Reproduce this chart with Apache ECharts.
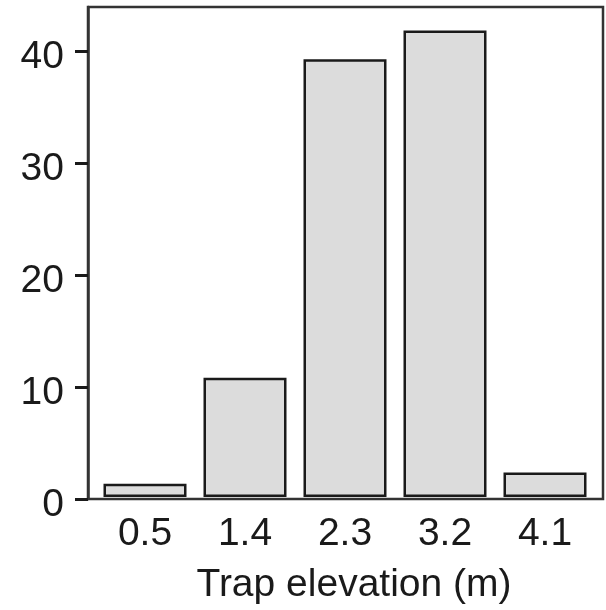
<!DOCTYPE html>
<html><head><meta charset="utf-8">
<script src="https://cdn.jsdelivr.net/npm/echarts@6/dist/echarts.min.js"></script>
<style>html,body{margin:0;padding:0;background:#fff}#c{width:606px;height:610px}</style>
</head><body><div id="c"></div>
<script>
const categories = ['0.5', '1.4', '2.3', '3.2', '4.1'];
const counts = [1.2, 10.7, 39.3, 41.9, 2.2];
const yTicks = [0, 10, 20, 30, 40];
const xTitle = 'Trap elevation (m)';

const FONT = "'Liberation Sans', Arial, sans-serif";
const chart = echarts.init(document.getElementById('c'), null, {renderer: 'canvas'});
chart.setOption({
  animation: false,
  backgroundColor: '#fff',
  grid: [
    {left: 88, right: 3, top: 7, bottom: 111, show: true, borderColor: '#333', borderWidth: 2.5, backgroundColor: 'transparent'},
    {left: 95, right: 11, top: 7, bottom: 111}
  ],
  xAxis: [
    {gridIndex: 0, type: 'value', min: 0, max: 1, show: false},
    {gridIndex: 1, type: 'category', data: categories,
     axisLine: {show: false}, axisTick: {show: false}, splitLine: {show: false},
     axisLabel: {fontSize: 39, color: '#1a1a1a', fontFamily: FONT, margin: 18},
     name: xTitle, nameLocation: 'middle', nameGap: 69,
     nameTextStyle: {fontSize: 39, color: '#1a1a1a', fontFamily: FONT, padding: [0, 0, 0, 18]}}
  ],
  yAxis: [
    {gridIndex: 0, type: 'value', min: 0, max: 44,
     axisLine: {show: true, lineStyle: {color: '#333', width: 2.5}},
     axisTick: {show: true, length: 13, customValues: yTicks, lineStyle: {color: '#1a1a1a', width: 3}},
     axisLabel: {fontSize: 39, color: '#1a1a1a', fontFamily: FONT, margin: 24, customValues: yTicks,
                 verticalAlign: 'top', lineHeight: 12},
     splitLine: {show: false}},
    {gridIndex: 1, type: 'value', min: 0, max: 44, show: false}
  ],
  series: [{
    type: 'bar', xAxisIndex: 1, yAxisIndex: 1, data: counts, barWidth: 83,
    itemStyle: {color: '#dcdcdc', borderColor: '#1a1a1a', borderWidth: 2.5}
  }]
});
</script></body></html>
